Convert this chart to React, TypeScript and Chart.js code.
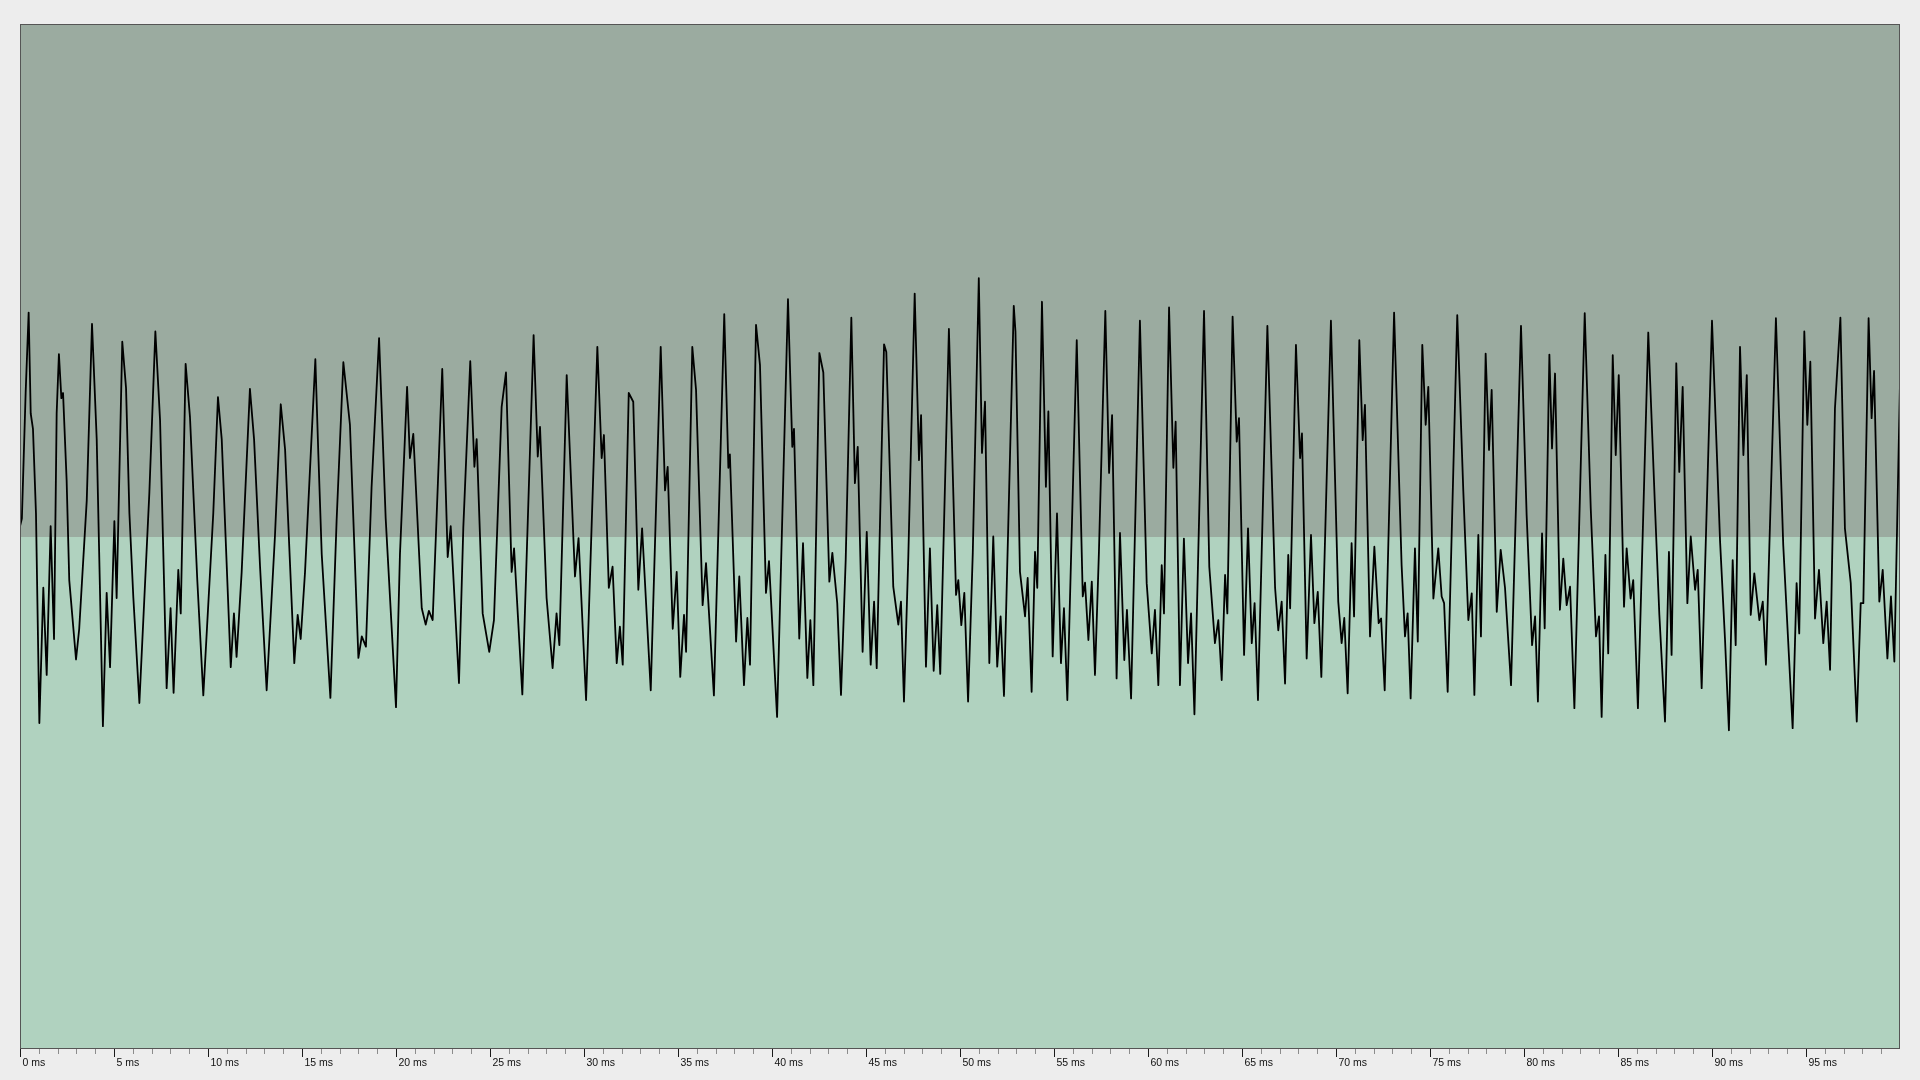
import React, { useEffect, useRef } from "react";
import { Chart, registerables } from "chart.js";

Chart.register(...registerables);

// Axis settings (milliseconds)
const xMinMs = 0;
const xMaxMs = 100;
const minorStepMs = 1;
const labelEveryMs = 5;
const yMin = -1;
const yMax = 1;

// Waveform vertices: [time in ms, amplitude]
const wave00to10: [number, number][] = [
  [0, 0.02], [0.1, 0.035], [0.3, 0.28], [0.46, 0.437], [0.57, 0.24], [0.69, 0.21], [0.85, 0.045],
  [1.03, -0.364], [1.24, -0.1], [1.42, -0.27], [1.63, 0.02], [1.81, -0.2], [1.95, 0.24], [2.07, 0.356],
  [2.2, 0.27], [2.29, 0.28], [2.48, 0.11], [2.62, -0.085], [2.98, -0.24], [3.15, -0.18], [3.55, 0.07],
  [3.83, 0.415], [4.08, 0.19], [4.41, -0.37], [4.61, -0.11], [4.79, -0.255], [5.02, 0.03], [5.14, -0.12],
  [5.44, 0.38], [5.64, 0.29], [5.82, 0.045], [6.03, -0.12], [6.35, -0.325], [6.88, 0.085], [7.2, 0.4],
  [7.45, 0.227], [7.8, -0.296], [8.01, -0.14], [8.17, -0.305], [8.42, -0.065], [8.55, -0.15], [8.81, 0.337],
  [9.04, 0.234], [9.43, -0.085], [9.75, -0.31],
];

const wave10to20: [number, number][] = [
  [10.28, 0.045], [10.53, 0.272], [10.73, 0.19], [11.21, -0.255], [11.38, -0.15], [11.52, -0.235],
  [11.79, -0.07], [12.23, 0.288], [12.45, 0.19], [12.77, -0.06], [13.12, -0.3], [13.56, 0.0], [13.87, 0.258],
  [14.1, 0.17], [14.59, -0.247], [14.77, -0.153], [14.93, -0.2], [15.16, -0.07], [15.71, 0.346],
  [15.87, 0.16], [16.05, -0.035], [16.51, -0.315], [16.84, 0.03], [17.2, 0.34], [17.55, 0.218],
  [18.0, -0.237], [18.18, -0.195], [18.4, -0.215], [18.7, 0.095], [19.1, 0.387], [19.45, 0.036],
  [20.0, -0.333],
];

const wave20to30: [number, number][] = [
  [20.21, -0.035], [20.59, 0.292], [20.74, 0.153], [20.92, 0.2], [21.37, -0.14], [21.58, -0.172],
  [21.75, -0.145], [21.95, -0.163], [22.46, 0.327], [22.75, -0.04], [22.91, 0.02], [23.35, -0.286],
  [23.58, 0.017], [23.95, 0.342], [24.17, 0.136], [24.29, 0.19], [24.61, -0.15], [24.96, -0.225],
  [25.21, -0.163], [25.62, 0.253], [25.85, 0.32], [26.15, -0.069], [26.28, -0.023], [26.72, -0.308],
  [27.32, 0.393], [27.54, 0.156], [27.66, 0.214], [28.01, -0.12], [28.33, -0.257], [28.54, -0.15],
  [28.69, -0.212], [29.08, 0.315], [29.52, -0.078], [29.71, -0.003],
];

const wave30to40: [number, number][] = [
  [30.11, -0.319], [30.71, 0.37], [30.94, 0.153], [31.06, 0.198], [31.32, -0.1], [31.52, -0.059],
  [31.74, -0.247], [31.91, -0.176], [32.06, -0.25], [32.38, 0.28], [32.62, 0.263], [32.89, -0.104],
  [33.09, 0.016], [33.55, -0.3], [34.08, 0.37], [34.31, 0.09], [34.45, 0.136], [34.72, -0.18],
  [34.93, -0.069], [35.12, -0.274], [35.32, -0.153], [35.43, -0.225], [35.76, 0.37], [35.96, 0.286],
  [36.31, -0.134], [36.49, -0.052], [36.91, -0.31], [37.46, 0.434], [37.68, 0.134], [37.76, 0.16],
  [38.09, -0.205], [38.26, -0.078], [38.51, -0.29], [38.69, -0.159], [38.83, -0.25], [39.15, 0.413],
  [39.36, 0.335], [39.68, -0.11], [39.84, -0.048],
];

const wave40to50: [number, number][] = [
  [40.27, -0.352], [40.85, 0.463], [41.08, 0.175], [41.17, 0.21], [41.45, -0.199], [41.65, -0.013],
  [41.88, -0.276], [42.04, -0.163], [42.2, -0.29], [42.52, 0.358], [42.73, 0.32], [43.05, -0.088],
  [43.21, -0.032], [43.47, -0.13], [43.67, -0.309], [43.92, -0.046], [44.22, 0.427], [44.41, 0.104],
  [44.56, 0.175], [44.82, -0.225], [45.04, 0.009], [45.25, -0.25], [45.43, -0.127], [45.57, -0.257],
  [45.96, 0.375], [46.08, 0.36], [46.45, -0.098], [46.72, -0.172], [46.86, -0.127], [47.02, -0.322],
  [47.25, -0.04], [47.59, 0.474], [47.82, 0.149], [47.93, 0.237], [48.19, -0.254], [48.4, -0.023],
  [48.6, -0.262], [48.79, -0.134], [48.95, -0.268], [49.41, 0.405], [49.79, -0.114], [49.91, -0.085],
];

const wave50to60: [number, number][] = [
  [50.07, -0.173], [50.23, -0.11], [50.43, -0.322], [50.68, -0.032], [51.0, 0.504], [51.17, 0.163],
  [51.33, 0.263], [51.56, -0.247], [51.77, 0.0], [51.98, -0.254], [52.16, -0.156], [52.34, -0.311],
  [52.86, 0.45], [52.95, 0.4], [53.19, -0.069], [53.46, -0.156], [53.6, -0.081], [53.81, -0.303],
  [53.99, -0.03], [54.11, -0.1], [54.36, 0.458], [54.57, 0.097], [54.7, 0.244], [54.93, -0.234],
  [55.16, 0.045], [55.37, -0.247], [55.53, -0.14], [55.71, -0.319], [56.21, 0.383], [56.53, -0.117],
  [56.65, -0.09], [56.83, -0.202], [57.01, -0.088], [57.18, -0.27], [57.39, -0.03], [57.73, 0.44],
  [57.93, 0.124], [58.09, 0.237], [58.33, -0.277], [58.51, 0.007], [58.74, -0.241], [58.88, -0.143],
  [59.1, -0.316], [59.57, 0.421], [59.93, -0.091],
];

const wave60to70: [number, number][] = [
  [60.2, -0.228], [60.37, -0.143], [60.55, -0.29], [60.73, -0.056], [60.85, -0.15], [61.12, 0.447],
  [61.35, 0.134], [61.47, 0.224], [61.7, -0.29], [61.91, -0.004], [62.13, -0.247], [62.29, -0.15],
  [62.47, -0.347], [62.98, 0.44], [63.26, -0.059], [63.56, -0.208], [63.74, -0.163], [63.92, -0.28],
  [64.1, -0.075], [64.22, -0.15], [64.5, 0.429], [64.72, 0.185], [64.84, 0.231], [65.11, -0.231],
  [65.32, 0.016], [65.52, -0.208], [65.67, -0.13], [65.85, -0.319], [66.35, 0.411], [66.76, -0.1],
  [66.93, -0.183], [67.11, -0.127], [67.29, -0.287], [67.46, -0.036], [67.56, -0.14], [67.87, 0.374],
  [68.09, 0.153], [68.19, 0.201], [68.44, -0.238], [68.67, 0.003], [68.85, -0.169], [69.03, -0.108],
  [69.22, -0.274], [69.73, 0.421],
];

const wave70to80: [number, number][] = [
  [70.12, -0.127], [70.3, -0.208], [70.44, -0.159], [70.62, -0.306], [70.83, -0.013], [70.96, -0.156],
  [71.24, 0.383], [71.42, 0.188], [71.54, 0.257], [71.81, -0.195], [72.04, -0.02], [72.27, -0.169],
  [72.4, -0.16], [72.59, -0.3], [73.09, 0.437], [73.49, -0.056], [73.67, -0.195], [73.81, -0.15],
  [73.97, -0.316], [74.2, -0.023], [74.35, -0.205], [74.59, 0.374], [74.77, 0.218], [74.91, 0.292],
  [75.18, -0.121], [75.44, -0.023], [75.62, -0.117], [75.75, -0.13], [75.94, -0.303], [76.45, 0.432],
  [76.77, 0.09], [77.04, -0.163], [77.22, -0.111], [77.36, -0.309], [77.57, 0.003], [77.71, -0.195],
  [77.96, 0.357], [78.14, 0.169], [78.28, 0.286], [78.55, -0.147], [78.76, -0.026], [78.99, -0.1],
  [79.31, -0.29], [79.84, 0.411],
];

const wave80to90: [number, number][] = [
  [80.14, 0.042], [80.43, -0.212], [80.59, -0.156], [80.74, -0.322], [80.96, 0.006], [81.1, -0.179],
  [81.35, 0.355], [81.49, 0.172], [81.65, 0.318], [81.91, -0.143], [82.09, -0.043], [82.27, -0.134],
  [82.45, -0.098], [82.68, -0.335], [83.23, 0.436], [83.55, 0.055], [83.83, -0.195], [83.99, -0.156],
  [84.13, -0.352], [84.33, -0.036], [84.48, -0.228], [84.72, 0.354], [84.88, 0.159], [85.04, 0.315],
  [85.32, -0.137], [85.46, -0.023], [85.67, -0.121], [85.81, -0.085], [86.06, -0.335], [86.61, 0.398],
  [86.97, 0.055], [87.2, -0.153], [87.5, -0.361], [87.71, -0.03], [87.85, -0.231], [88.1, 0.338],
  [88.26, 0.126], [88.44, 0.292], [88.69, -0.13], [88.87, 0.0], [89.1, -0.104], [89.24, -0.065],
  [89.45, -0.296],
];

const wave90to100: [number, number][] = [
  [90.0, 0.421], [90.43, -0.01], [90.69, -0.199], [90.9, -0.378], [91.1, -0.046], [91.26, -0.212],
  [91.49, 0.37], [91.67, 0.159], [91.85, 0.315], [92.06, -0.153], [92.25, -0.072], [92.52, -0.163],
  [92.7, -0.127], [92.87, -0.25], [93.4, 0.426], [93.79, -0.017], [94.29, -0.374], [94.5, -0.091],
  [94.64, -0.189], [94.91, 0.4], [95.07, 0.218], [95.23, 0.341], [95.48, -0.16], [95.69, -0.065],
  [95.92, -0.208], [96.1, -0.127], [96.28, -0.26], [96.54, 0.25], [96.83, 0.427], [97.07, 0.016],
  [97.38, -0.091], [97.7, -0.361], [97.91, -0.13], [98.05, -0.13], [98.33, 0.426], [98.49, 0.231],
  [98.62, 0.323], [98.9, -0.127], [99.08, -0.065], [99.33, -0.238], [99.52, -0.117], [99.7, -0.244],
  [100, 0.3],
];

const waveSegments = [
  wave00to10, wave10to20, wave20to30, wave30to40, wave40to50,
  wave50to60, wave60to70, wave70to80, wave80to90, wave90to100,
];

const UPPER_COLOR = "rgb(155,171,160)";
const LOWER_COLOR = "rgb(176,210,191)";
const BORDER_COLOR = "#555555";

const backgroundPlugin = {
  id: "halfBackground",
  beforeDraw(chart: any) {
    const { ctx, chartArea } = chart;
    const yScale = chart.scales.y;
    const mid = Math.round(yScale.getPixelForValue(0));
    ctx.save();
    ctx.fillStyle = UPPER_COLOR;
    ctx.fillRect(chartArea.left, chartArea.top, chartArea.right - chartArea.left, mid - chartArea.top);
    ctx.fillStyle = LOWER_COLOR;
    ctx.fillRect(chartArea.left, mid, chartArea.right - chartArea.left, chartArea.bottom - mid);
    ctx.restore();
  },
  afterDatasetsDraw(chart: any) {
    const { ctx, chartArea } = chart;
    ctx.save();
    ctx.strokeStyle = BORDER_COLOR;
    ctx.lineWidth = 1;
    ctx.strokeRect(
      chartArea.left + 0.5,
      chartArea.top + 0.5,
      chartArea.right - chartArea.left - 1,
      chartArea.bottom - chartArea.top - 1
    );
    ctx.restore();
  },
};

const minorTickPlugin = {
  id: "minorTicks",
  afterDraw(chart: any) {
    const { ctx, chartArea } = chart;
    const xScale = chart.scales.x;
    ctx.save();
    ctx.strokeStyle = "#8c8c8c";
    ctx.lineWidth = 1;
    for (let v = xMinMs; v < xMaxMs; v += minorStepMs) {
      if (v % labelEveryMs === 0) continue;
      const px = Math.round(xScale.getPixelForValue(v)) + 0.5;
      ctx.beginPath();
      ctx.moveTo(px, chartArea.bottom);
      ctx.lineTo(px, chartArea.bottom + 5);
      ctx.stroke();
    }
    ctx.restore();
  },
};

export default function App() {
  const canvasRef = useRef<HTMLCanvasElement>(null);

  useEffect(() => {
    document.body.style.margin = "0";
    const points = waveSegments.flat().map(([x, y]) => ({ x, y }));
    const chart = new Chart(canvasRef.current as HTMLCanvasElement, {
      type: "line",
      data: {
        datasets: [
          {
            data: points,
            borderColor: "#000000",
            borderWidth: 1.8,
            borderJoinStyle: "round",
            pointRadius: 0,
            tension: 0,
            fill: false,
          },
        ],
      },
      options: {
        animation: false,
        responsive: false,
        maintainAspectRatio: false,
        events: [],
        layout: { padding: { left: 20, right: 20, top: 24, bottom: 0 } },
        plugins: { legend: { display: false }, tooltip: { enabled: false } },
        scales: {
          x: {
            type: "linear",
            min: xMinMs,
            max: xMaxMs,
            border: { display: false },
            grid: {
              display: true,
              drawOnChartArea: false,
              drawTicks: true,
              tickLength: 8,
              tickWidth: 1,
              tickColor: (ctx: any) =>
                ctx.tick && ctx.tick.value % labelEveryMs === 0 && ctx.tick.value < xMaxMs
                  ? "#1a1a1a"
                  : "rgba(0,0,0,0)",
            },
            ticks: {
              stepSize: minorStepMs,
              autoSkip: false,
              maxRotation: 0,
              minRotation: 0,
              align: "start",
              labelOffset: 2.5,
              padding: 0,
              color: "#111111",
              font: { family: "'Liberation Sans', Arial, sans-serif", size: 10.5 },
              callback: (value: any) =>
                Number(value) % labelEveryMs === 0 && Number(value) < xMaxMs ? `${value} ms` : "",
            },
            afterFit: (scale: any) => {
              scale.height = 31;
            },
          },
          y: { display: false, min: yMin, max: yMax },
        },
      },
      plugins: [backgroundPlugin, minorTickPlugin],
    } as any);
    return () => chart.destroy();
  }, []);

  return (
    <div
      style={{
        position: "fixed",
        left: 0,
        top: 0,
        width: 1920,
        height: 1080,
        background: "#ededed",
      }}
    >
      <canvas ref={canvasRef} width={1920} height={1080} style={{ display: "block" }} />
    </div>
  );
}
